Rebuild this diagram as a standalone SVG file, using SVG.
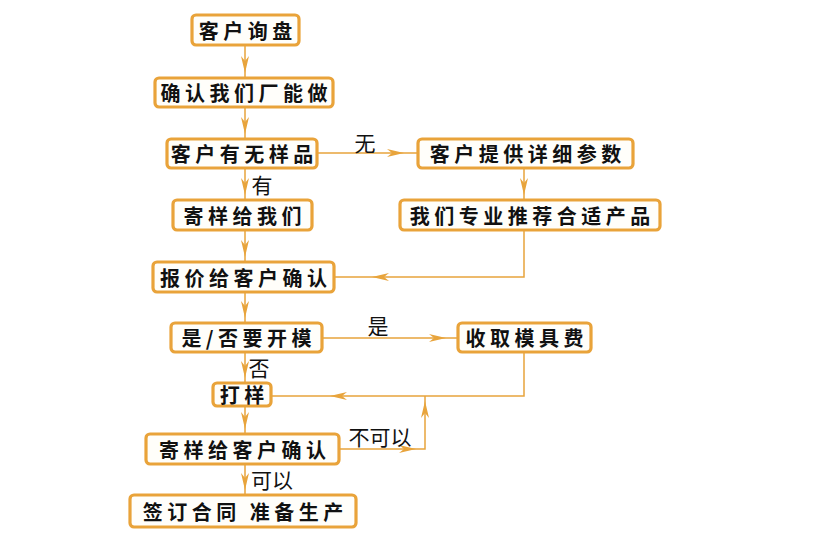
<svg xmlns="http://www.w3.org/2000/svg" xmlns:xlink="http://www.w3.org/1999/xlink" width="813" height="533" viewBox="0 0 813 533">
<style>
.box{fill:#fffefa;stroke:#e9a33a;stroke-width:3.2}
.t{font-family:"Noto Sans CJK SC","Noto Sans CJK JP",sans-serif;font-weight:bold;font-size:20px;letter-spacing:4.5px;fill:#111;text-anchor:middle;dominant-baseline:central}
.lb{font-family:"Noto Sans CJK SC","Noto Sans CJK JP",sans-serif;font-weight:normal;font-size:21px;fill:#111;text-anchor:middle;dominant-baseline:central}
.ln{fill:none;stroke:#e8a43c;stroke-width:1.5}
.ah{fill:#e8a43c}
</style>
<defs>
<path id="ah" d="M0,0 L-17,-4 L-12,0 L-17,4 Z"/>
</defs>
<rect width="813" height="533" fill="#ffffff"/>
<g id="connectors">
<path class="ln" d="M245,45 V78 M245,107 V139 M245,168 V200 M245,230 V262 M245,292 V323 M245,352 V383 M245,406 V434 M245,464 V495 M524,168 V200"/>
<path class="ln" d="M317,153 H418 M524,230 V277 H334 M322,338 H458 M524,352 V396 H271 M339,449 H425 V396"/>
<g class="ah">
<use xlink:href="#ah" transform="translate(245,73) rotate(90)"/>
<use xlink:href="#ah" transform="translate(245,134) rotate(90)"/>
<use xlink:href="#ah" transform="translate(245,195) rotate(90)"/>
<use xlink:href="#ah" transform="translate(245,257) rotate(90)"/>
<use xlink:href="#ah" transform="translate(245,318) rotate(90)"/>
<use xlink:href="#ah" transform="translate(245,378) rotate(90)"/>
<use xlink:href="#ah" transform="translate(245,429) rotate(90)"/>
<use xlink:href="#ah" transform="translate(245,490) rotate(90)"/>
<use xlink:href="#ah" transform="translate(524,195) rotate(90)"/>
<use xlink:href="#ah" transform="translate(404,153)"/>
<use xlink:href="#ah" transform="translate(372,277) rotate(180)"/>
<use xlink:href="#ah" transform="translate(446,338)"/>
<use xlink:href="#ah" transform="translate(330,396) rotate(180)"/>
<use xlink:href="#ah" transform="translate(416,449)"/>
<use xlink:href="#ah" transform="translate(425,401) rotate(-90)"/>
</g>
</g>
<g id="n1"><rect class="box" x="192" y="15" width="107" height="30" rx="4"/><text class="t" x="247.75" y="30">客户询盘</text></g>
<g id="n2"><rect class="box" x="155" y="78" width="178" height="29" rx="4"/><text class="t" x="246.25" y="92.5">确认我们厂能做</text></g>
<g id="n3"><rect class="box" x="167" y="139" width="150" height="29" rx="4"/><text class="t" x="244.25" y="153.5">客户有无样品</text></g>
<g id="n4"><rect class="box" x="418" y="139" width="215" height="29" rx="4"/><text class="t" x="527.75" y="153.5">客户提供详细参数</text></g>
<g id="n5"><rect class="box" x="173" y="200" width="139" height="30" rx="4"/><text class="t" x="244.75" y="215">寄样给我们</text></g>
<g id="n6"><rect class="box" x="400" y="200" width="260" height="30" rx="4"/><text class="t" x="532.25" y="215">我们专业推荐合适产品</text></g>
<g id="n7"><rect class="box" x="153" y="262" width="181" height="30" rx="4"/><text class="t" x="245.75" y="277">报价给客户确认</text></g>
<g id="n8"><rect class="box" x="171" y="323" width="151" height="29" rx="4"/><text class="t" x="248.75" y="337.5">是/否要开模</text></g>
<g id="n9"><rect class="box" x="458" y="323" width="133" height="29" rx="4"/><text class="t" x="526.75" y="337.5">收取模具费</text></g>
<g id="n10"><rect class="box" x="213" y="383" width="58" height="23" rx="4"/><text class="t" x="244.25" y="394.5">打样</text></g>
<g id="n11"><rect class="box" x="146" y="434" width="193" height="30" rx="4"/><text class="t" x="244.75" y="449">寄样给客户确认</text></g>
<g id="n12"><rect class="box" x="130" y="495" width="226" height="32" rx="4"/><text class="t" x="245.25" y="511">签订合同 准备生产</text></g>
<g id="labels">
<text class="lb" x="365" y="142">无</text>
<text class="lb" x="262" y="184">有</text>
<text class="lb" x="378" y="325">是</text>
<text class="lb" x="259" y="367">否</text>
<text class="lb" x="380" y="436">不可以</text>
<text class="lb" x="272" y="479">可以</text>
</g>
</svg>
